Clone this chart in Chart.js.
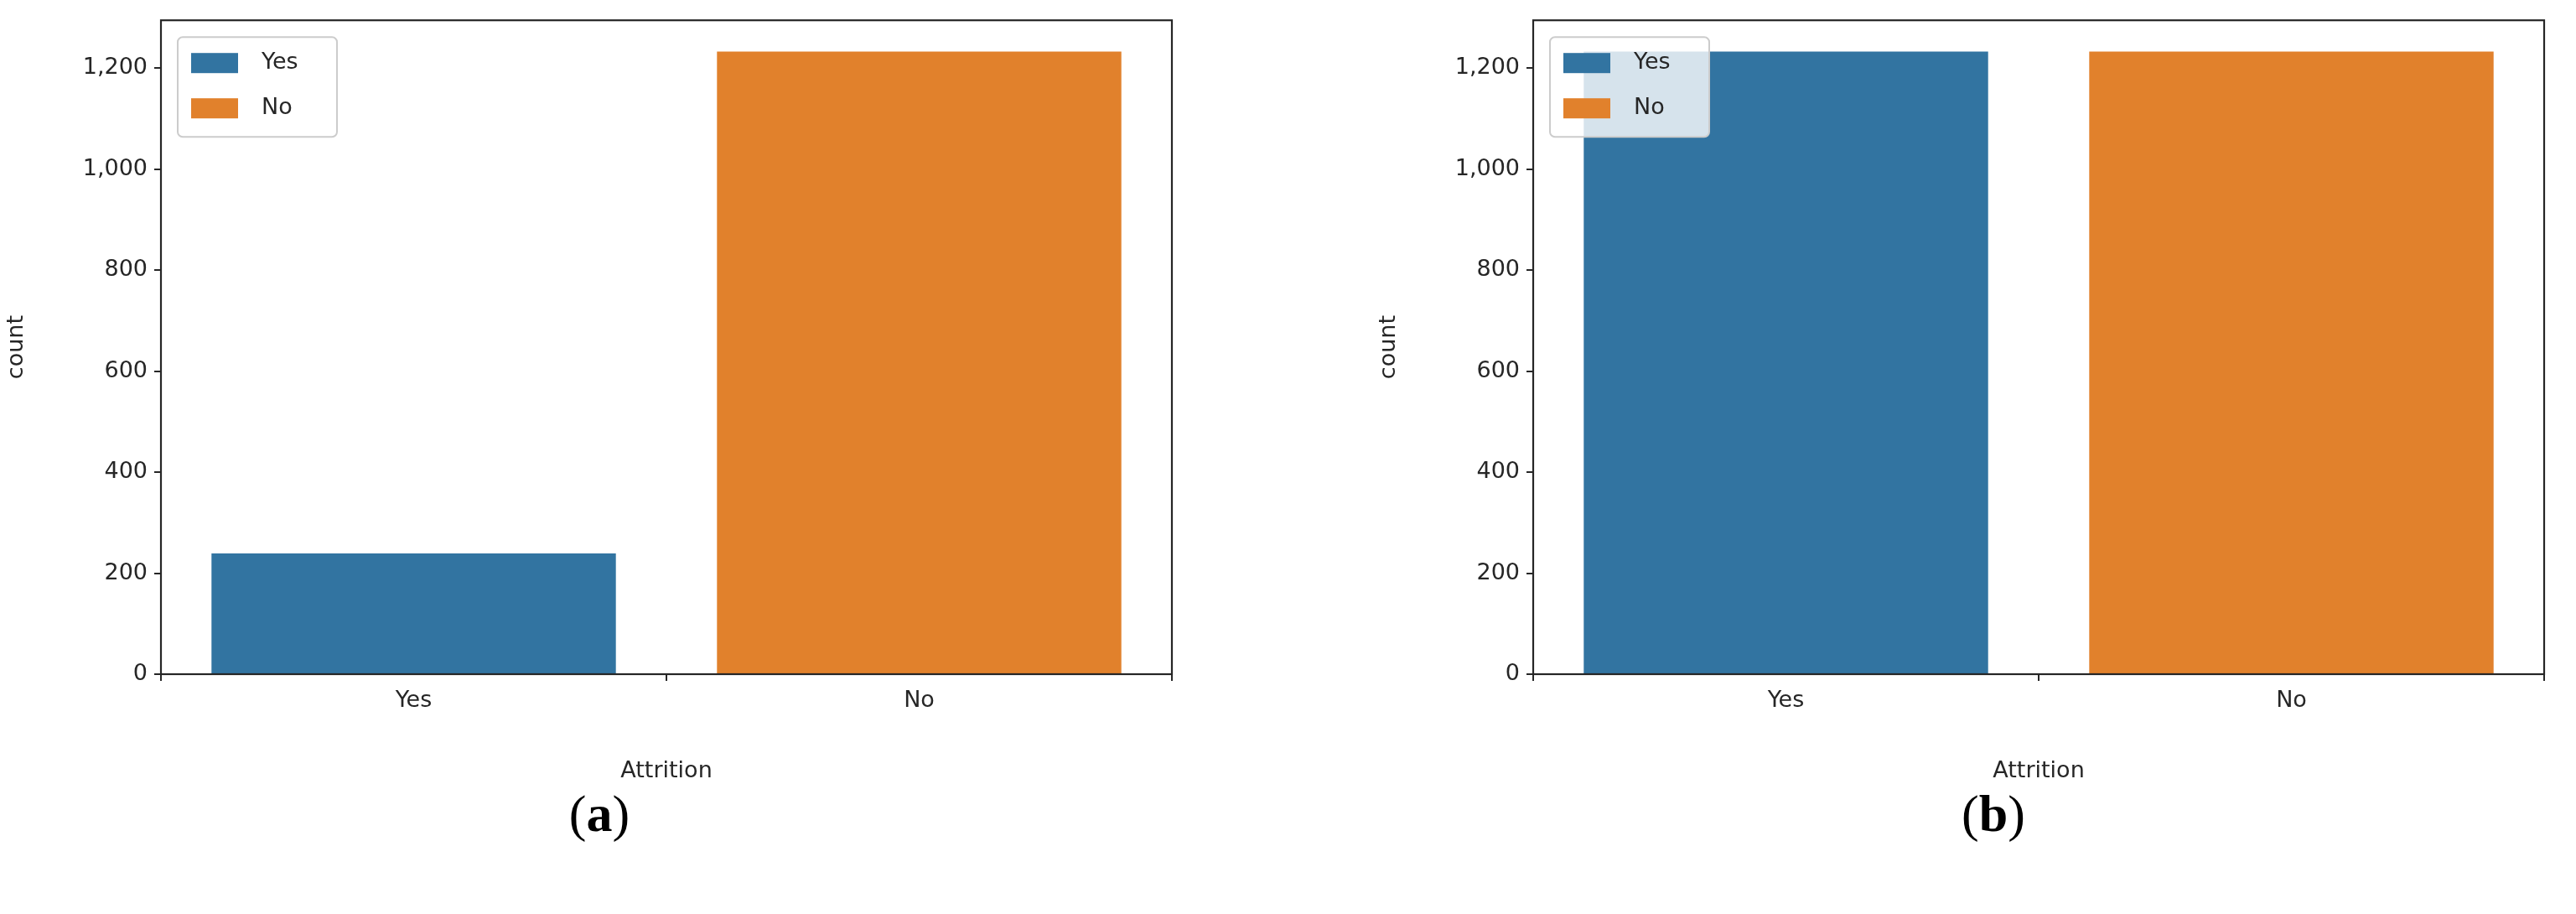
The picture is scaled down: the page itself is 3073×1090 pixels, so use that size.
<!DOCTYPE html>
<html><head><meta charset="utf-8">
<script src="https://cdn.jsdelivr.net/npm/chart.js@4"></script>
<style>
body{margin:0;background:#fff;width:3073px;height:1090px;position:relative;overflow:hidden}
.box{position:absolute;top:0;width:1536px;height:940px}
.cap{position:absolute;top:935px;font-family:"Liberation Serif",serif;font-size:62px;transform:translateX(-50%)}
</style></head><body>
<div class="box" style="left:0"><canvas id="c1"></canvas></div>
<div class="box" style="left:1637px"><canvas id="c2"></canvas></div>
<div class="cap" style="left:715px">(<b>a</b>)</div>
<div class="cap" style="left:2378px">(<b>b</b>)</div>
<script>
const categories = ["Yes", "No"];
const countsA = [239, 1233];
const countsB = [1233, 1233];
const yTicks = [0, 200, 400, 600, 800, 1000, 1200];
const colors = ["#3274a1", "#e1812c"];
const F = "'DejaVu Sans', sans-serif";

const frame = {
  id: 'frame',
  afterDraw(chart) {
    const {ctx, chartArea: a} = chart;
    ctx.save();
    // legend
    const lx = a.left + 20, ly = a.top + 20;
    ctx.fillStyle = 'rgba(255,255,255,0.8)';
    ctx.strokeStyle = '#cccccc'; ctx.lineWidth = 2;
    ctx.beginPath(); ctx.roundRect(lx, ly, 190, 119, 6); ctx.fill(); ctx.stroke();
    ctx.font = '27px ' + F; ctx.textBaseline = 'middle';
    categories.forEach((c, i) => {
      const y = ly + 30 + i * 54;
      ctx.fillStyle = colors[i];
      ctx.fillRect(lx + 16, y - 11, 56, 24);
      ctx.fillStyle = '#262626';
      ctx.fillText(c, lx + 100, y + 1);
    });
    ctx.strokeStyle = '#262626'; ctx.lineWidth = 2.2;
    ctx.strokeRect(a.left, a.top, a.right - a.left, a.bottom - a.top);
    ctx.restore();
  }
};

function make(id, vals) {
  new Chart(document.getElementById(id), {
    type: 'bar',
    data: { labels: categories, datasets: [{ data: vals, backgroundColor: colors,
      barPercentage: 0.8, categoryPercentage: 1.0 }] },
    plugins: [frame],
    options: {
      responsive: true, maintainAspectRatio: false, animation: false,
      layout: { padding: { left: 0, right: 138, top: 20, bottom: 0 } },
      plugins: { legend: { display: false }, tooltip: { enabled: false } },
      scales: {
        x: {
          grid: { display: true, drawOnChartArea: false, tickLength: 8, color: '#262626', lineWidth: 2 },
          border: { display: false },
          ticks: { font: { family: F, size: 27 }, color: '#262626', padding: 8 },
          title: { display: true, text: 'Attrition', font: { family: F, size: 27 }, color: '#262626', padding: { top: 4 } },
          afterFit(s) { s.height = 136; }
        },
        y: {
          min: 0, max: 1295,
          afterBuildTicks(s) { s.ticks = yTicks.map(v => ({ value: v })); },
          grid: { display: true, drawOnChartArea: false, tickLength: 8, color: '#262626', lineWidth: 2 },
          border: { display: false },
          ticks: { font: { family: F, size: 27 }, color: '#262626', padding: 8 },
          title: { display: true, text: 'count', font: { family: F, size: 27 }, color: '#262626', padding: { bottom: 12 } },
          afterFit(s) { s.width = 192; }
        }
      }
    }
  });
}
make('c1', countsA);
make('c2', countsB);
</script></body></html>
